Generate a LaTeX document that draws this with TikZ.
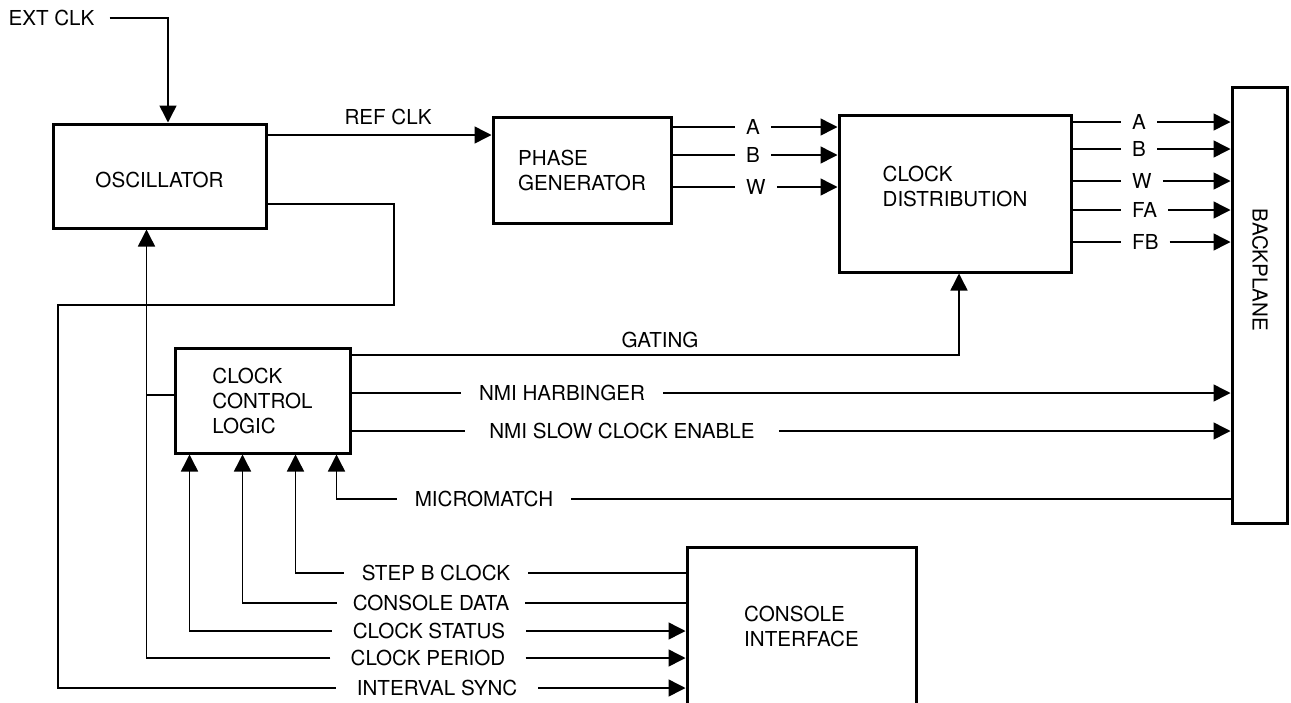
\documentclass[tikz,border=0pt]{standalone}
\usepackage{fontspec}
\setmainfont{TeX Gyre Heros}
\usetikzlibrary{arrows.meta,calc}
\begin{document}
\begin{tikzpicture}[x=1pt,y=-1pt,
  every node/.style={font=\fontsize{20.6}{25}\selectfont, text=black},
  box/.style={draw, line width=3pt, inner sep=0pt, align=left},
  conn/.style={line width=1.5pt},
  arr/.style={conn, -{Triangle[length=17pt,width=17pt]}},
  lbl/.style={inner xsep=11pt, inner ysep=2pt}]
\useasboundingbox (0,0) rectangle (1291,702);
\clip (0,0) rectangle (1291,702);

% boxes
\node[box, minimum width=213pt, minimum height=104pt,
      label={[yshift=-4pt]center:OSCILLATOR}] (osc) at (159.5,176) {};
\node[box, minimum width=178pt, minimum height=106pt] (pg) at (582,170) {PHASE\\GENERATOR};
\node[box, minimum width=232pt, minimum height=157pt,
      label={[align=left, yshift=7.5pt]center:CLOCK\\DISTRIBUTION}] (cd) at (955,193.5) {};
\node[box, minimum width=55pt, minimum height=436pt] (bp) at (1259.5,305) {};
\node[rotate=-90] (bptext) at (1260,270) {BACKPLANE};
\node[box, minimum width=175pt, minimum height=105pt] (ccl) at (262.5,400.5) {CLOCK\\CONTROL\\LOGIC};
\node[box, minimum width=229pt, minimum height=158pt] (ci) at (801.5,626) {CONSOLE\\INTERFACE};

% EXT CLK
\node[inner xsep=15pt] (extclk) at (51.5,18) {EXT CLK};
\draw[arr] (extclk.east) -| ([xshift=8.5pt]osc.north);

% REF CLK
\node (refclk) at (388,117) {REF CLK};
\draw[arr] (osc.east |- 0,135) -- (pg.west |- 0,135);

% phase generator outputs
\node[lbl, anchor=west] (pA) at (735,127) {A};
\node[lbl, anchor=west] (pB) at (735,155) {B};
\node[lbl, anchor=west] (pW) at (735,187) {W};
\foreach \n in {pA,pB,pW}{
  \draw[conn] (pg.east |- \n) -- (\n.west);
  \draw[arr] (\n.east) -- (cd.west |- \n);
}

% clock distribution outputs
\node[lbl, anchor=west] (cA) at (1121,122) {A};
\node[lbl, anchor=west] (cB) at (1121,149) {B};
\node[lbl, anchor=west] (cW) at (1121,181) {W};
\node[lbl, anchor=west] (cFA) at (1121,210) {FA};
\node[lbl, anchor=west] (cFB) at (1121,242) {FB};
\foreach \n in {cA,cB,cW,cFA,cFB}{
  \draw[conn] (cd.east |- \n) -- (\n.west);
  \draw[arr] (\n.east) -- (bp.west |- \n);
}

% GATING
\node (gating) at (660,340) {GATING};
\draw[arr] (ccl.east |- 0,355) -| ([xshift=4pt]cd.south);

% NMI lines
\node[lbl, inner xsep=18pt] (nmih) at (562,393) {NMI HARBINGER};
\draw[conn] (ccl.east |- nmih) -- (nmih);
\draw[arr] (nmih) -- (bp.west |- nmih);
\node[lbl, inner xsep=24pt] (nmis) at (622,431) {NMI SLOW CLOCK ENABLE};
\draw[conn] (ccl.east |- nmis) -- (nmis);
\draw[arr] (nmis) -- (bp.west |- nmis);

% inputs to clock control logic
\coordinate (in1) at ([xshift=16pt]ccl.south west);
\coordinate (in2) at ([xshift=69pt]ccl.south west);
\coordinate (in3) at ([xshift=122pt]ccl.south west);
\coordinate (in4) at ([xshift=163pt]ccl.south west);
\coordinate (cpx) at ([xshift=95pt]osc.south west);

% MICROMATCH
\node[lbl, inner xsep=18pt] (mm) at (484,499) {MICROMATCH};
\draw[conn] (bp.west |- mm) -- (mm);
\draw[arr] (mm) -| (in4);

% STEP B CLOCK
\node[lbl, inner xsep=18pt] (stepb) at (436,573) {STEP B CLOCK};
\draw[conn] (ci.west |- stepb) -- (stepb);
\draw[arr] (stepb) -| (in3);

% CONSOLE DATA
\node[lbl, inner xsep=16pt] (cdata) at (431,603) {CONSOLE DATA};
\draw[conn] (ci.west |- cdata) -- (cdata);
\draw[arr] (cdata) -| (in2);

% CLOCK STATUS
\node[lbl, inner xsep=21pt] (cstat) at (429,631) {CLOCK STATUS};
\draw[arr] (cstat) -| (in1);
\draw[arr] (cstat) -- (ci.west |- cstat);

% CLOCK PERIOD
\node[lbl, inner xsep=20pt] (cper) at (428,658) {CLOCK PERIOD};
\draw[arr] (cper) -| (cpx);
\draw[arr] (cper) -- (ci.west |- cper);
\draw[conn] (cpx |- 0,395) -- (ccl.west |- 0,395);

% INTERVAL SYNC
\node[lbl, inner xsep=21pt] (isync) at (437,688) {INTERVAL SYNC};
\draw[conn] (osc.east |- 0,204) -| (394,305) -- (58,305) |- (isync);
\draw[arr] (isync) -- (ci.west |- isync);
\end{tikzpicture}
\end{document}
